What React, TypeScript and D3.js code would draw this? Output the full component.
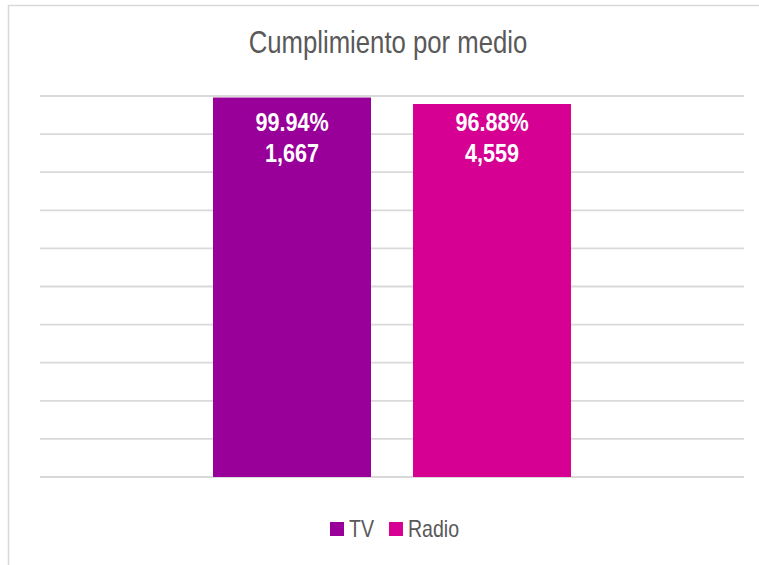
import React from "react";
import * as d3 from "d3";

const series = ["TV", "Radio"];
const barValues = [99.6, 97.9];
const percentLabels = ["99.94%", "96.88%"];
const countLabels = ["1,667", "4,559"];
const colors = ["#990099", "#D60093"];
const yTicks = [0, 10, 20, 30, 40, 50, 60, 70, 80, 90, 100];

const W = 759;
const H = 565;
const FONT = "'Liberation Sans Narrow', 'Arial Narrow', 'Liberation Sans', Arial, sans-serif";

function NText(props: {
  x: number;
  y: number;
  anchor?: string;
  size: number;
  sx?: number;
  weight?: string;
  fill: string;
  children: React.ReactNode;
}) {
  const sx = props.sx ?? 0.83;
  return (
    <text
      transform={`translate(${props.x},${props.y}) scale(${sx},1)`}
      textAnchor={props.anchor || "start"}
      fontFamily={FONT}
      fontSize={props.size}
      fontWeight={props.weight || "normal"}
      fill={props.fill}
    >
      {props.children}
    </text>
  );
}

export default function App() {
  const plotLeft = 40;
  const plotRight = 744;
  const y = d3.scaleLinear().domain([0, 100]).range([477, 96]);
  const x = d3
    .scaleBand<string>()
    .domain(series)
    .range([213, 571])
    .paddingInner(0.21)
    .paddingOuter(0);

  return (
    <svg
      width={W}
      height={H}
      style={{ position: "absolute", left: 0, top: 0, background: "#fff" }}
    >
      <rect x={8.5} y={5.5} width={W + 20} height={H + 20} fill="#fff" stroke="#d9d9d9" strokeWidth={1.5} />
      <NText x={388} y={53} anchor="middle" size={31} fill="#595959">
        Cumplimiento por medio
      </NText>
      {yTicks.map((t) => (
        <line
          key={t}
          x1={plotLeft}
          x2={plotRight}
          y1={y(t)}
          y2={y(t)}
          stroke="#d9d9d9"
          strokeWidth={1.8}
        />
      ))}
      {series.map((s, i) => {
        const bx = x(s)!;
        const bw = x.bandwidth();
        const cx = bx + bw / 2;
        return (
          <g key={s}>
            <rect x={bx} y={y(barValues[i])} width={bw} height={y(0) - y(barValues[i])} fill={colors[i]} />
            <NText x={cx} y={131} anchor="middle" size={26} weight="bold" fill="#fff">
              {percentLabels[i]}
            </NText>
            <NText x={cx} y={162} anchor="middle" size={26} weight="bold" fill="#fff">
              {countLabels[i]}
            </NText>
          </g>
        );
      })}
      {series.map((s, i) => {
        const lx = i === 0 ? 330 : 389;
        return (
          <g key={"lg" + s}>
            <rect x={lx} y={522} width={14} height={14} fill={colors[i]} />
            <NText x={lx + 19} y={536.5} size={23} sx={0.85} fill="#595959">
              {s}
            </NText>
          </g>
        );
      })}
    </svg>
  );
}
